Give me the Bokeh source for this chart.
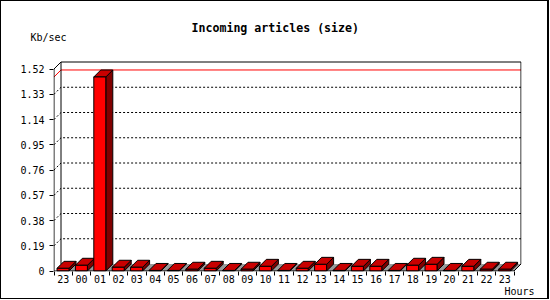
from bokeh.plotting import figure
from bokeh.models import Range1d, FixedTicker, Title
from bokeh.embed import file_html
from bokeh.resources import INLINE

# ---------------- data ----------------
HOURS = ["23", "00", "01", "02", "03", "04", "05", "06", "07", "08", "09", "10",
         "11", "12", "13", "14", "15", "16", "17", "18", "19", "20", "21", "22", "23"]
KBSEC = [0.020, 0.043, 1.460, 0.028, 0.028, 0.004, 0.004, 0.013, 0.020, 0.004, 0.013, 0.035,
         0.004, 0.020, 0.050, 0.004, 0.035, 0.035, 0.004, 0.043, 0.050, 0.004, 0.035, 0.013, 0.013]
Y_TICKS = [0, 0.19, 0.38, 0.57, 0.76, 0.95, 1.14, 1.33, 1.52]
Y_TICK_LABELS = ["0", "0.19", "0.38", "0.57", "0.76", "0.95", "1.14", "1.33", "1.52"]
TITLE = "Incoming articles (size)"
Y_UNIT = "Kb/sec"
X_UNIT = "Hours"

# ---------------- geometry ----------------
N = len(HOURS)
YMAX = Y_TICKS[-1]
PX_X = 18.4            # pixels per category
PX_Y = 202 / YMAX      # pixels per Kb/sec
DEPTH = 7              # 3-D depth in pixels
PAD = 0.5
HEAD = 19              # blank headroom above the back wall, in pixels
DX = DEPTH / PX_X
DY = DEPTH / PX_Y
PADX = PAD / PX_X
PADY = PAD / PX_Y
BAR_OFF = 3.0 / PX_X
BAR_W = 12.0 / PX_X

FRAME_W = round((N + DX + 2 * PADX) * PX_X)
FRAME_H = round((YMAX + DY + 2 * PADY) * PX_Y) + HEAD

MONO = "DejaVu Sans Mono"

p = figure(frame_width=FRAME_W, frame_height=FRAME_H, output_backend="svg", toolbar_location=None,
           x_range=Range1d(-PADX, N + DX + PADX),
           y_range=Range1d(-PADY, YMAX + DY + PADY + HEAD / PX_Y),
           min_border_left=52, min_border_top=41, min_border_right=26, min_border_bottom=27,
           background_fill_color="white", border_fill_color="white",
           title=TITLE, title_location="above",
           styles={"border-style": "solid", "border-color": "black",
                   "border-width": "1px 2px 1px 1px"})
p.outline_line_color = None
p.xgrid.visible = False
p.ygrid.visible = False

p.title.align = "left"
p.title.offset = 138
p.title.standoff = -10
p.title.text_font = MONO
p.title.text_font_size = "11.6px"
p.title.text_font_style = "bold"
p.title.text_color = "black"

p.add_layout(Title(text=Y_UNIT, align="left", offset=-23, text_font=MONO, standoff=0,
                   text_font_size="10px", text_font_style="normal", text_color="black"), "above")
p.add_layout(Title(text=X_UNIT, align="right", offset=-13, text_font=MONO, standoff=0,
                   vertical_align="top",
                   text_font_size="10px", text_font_style="normal", text_color="black"), "below")

# ---------------- axes ----------------
ya = p.yaxis[0]
ya.ticker = FixedTicker(ticks=Y_TICKS, minor_ticks=[])
ya.major_label_overrides = {t: l for t, l in zip(Y_TICKS, Y_TICK_LABELS)}
ya.axis_line_color = None
ya.major_tick_out = 4
ya.major_tick_in = 0
ya.major_tick_line_color = "black"
ya.major_label_standoff = 5
ya.major_label_text_font = MONO
ya.major_label_text_font_size = "10px"
ya.major_label_text_color = "black"

xa = p.xaxis[0]
centers = [i + 0.5 for i in range(N)]
xa.ticker = FixedTicker(ticks=centers, minor_ticks=list(range(N + 1)))
xa.major_label_overrides = {c: h for c, h in zip(centers, HOURS)}
xa.axis_line_color = None
xa.major_tick_out = 0
xa.major_tick_in = 0
xa.minor_tick_out = 4
xa.minor_tick_in = 0
xa.minor_tick_line_color = "black"
xa.major_label_standoff = -1
xa.major_label_text_font = MONO
xa.major_label_text_font_size = "10px"
xa.major_label_text_color = "black"

# ---------------- grid (dotted, with side-wall part) ----------------
gx, gy = [], []
for t in Y_TICKS[1:-1]:
    gx.append([0, DX, N + DX])
    gy.append([t, t + DY, t + DY])
p.multi_line(gx, gy, line_color="black", line_width=1, line_dash="2 2")

# ---------------- floor ----------------
p.patch([BAR_OFF, N, N + DX, BAR_OFF + DX], [0, 0, DY, DY],
        fill_color="#999999", line_color=None)

# ---------------- max line ----------------
vmax = max(KBSEC)
p.line([0, DX, N + DX], [vmax, vmax + DY, vmax + DY], line_color="red", line_width=1)

# ---------------- frame lines ----------------
p.line([DX, DX, N + DX, N + DX], [DY, YMAX + DY, YMAX + DY, DY], line_color="black", line_width=1)
p.line([0, DX], [YMAX, YMAX + DY], line_color="black", line_width=1)
p.line([N, N + DX], [0, DY], line_color="black", line_width=1)

# ---------------- bars ----------------
fx, fy, tx, ty, sx, sy = [], [], [], [], [], []
for i, v in enumerate(KBSEC):
    x0 = i + BAR_OFF
    x1 = x0 + BAR_W
    fx.append([x0, x1, x1, x0]); fy.append([0, 0, v, v])
    tx.append([x0, x1, x1 + DX, x0 + DX]); ty.append([v, v, v + DY, v + DY])
    sx.append([x1, x1 + DX, x1 + DX, x1]); sy.append([0, DY, v + DY, v])
p.patches(sx, sy, fill_color="#800000", line_color="black", line_width=1)
p.patches(tx, ty, fill_color="#c80000", line_color="black", line_width=1)
p.patches(fx, fy, fill_color="#ff0000", line_color="black", line_width=1)

# front axes
p.line([0, 0, N], [YMAX, 0, 0], line_color="black", line_width=1)

open("out.html", "w").write(file_html(p, INLINE))
